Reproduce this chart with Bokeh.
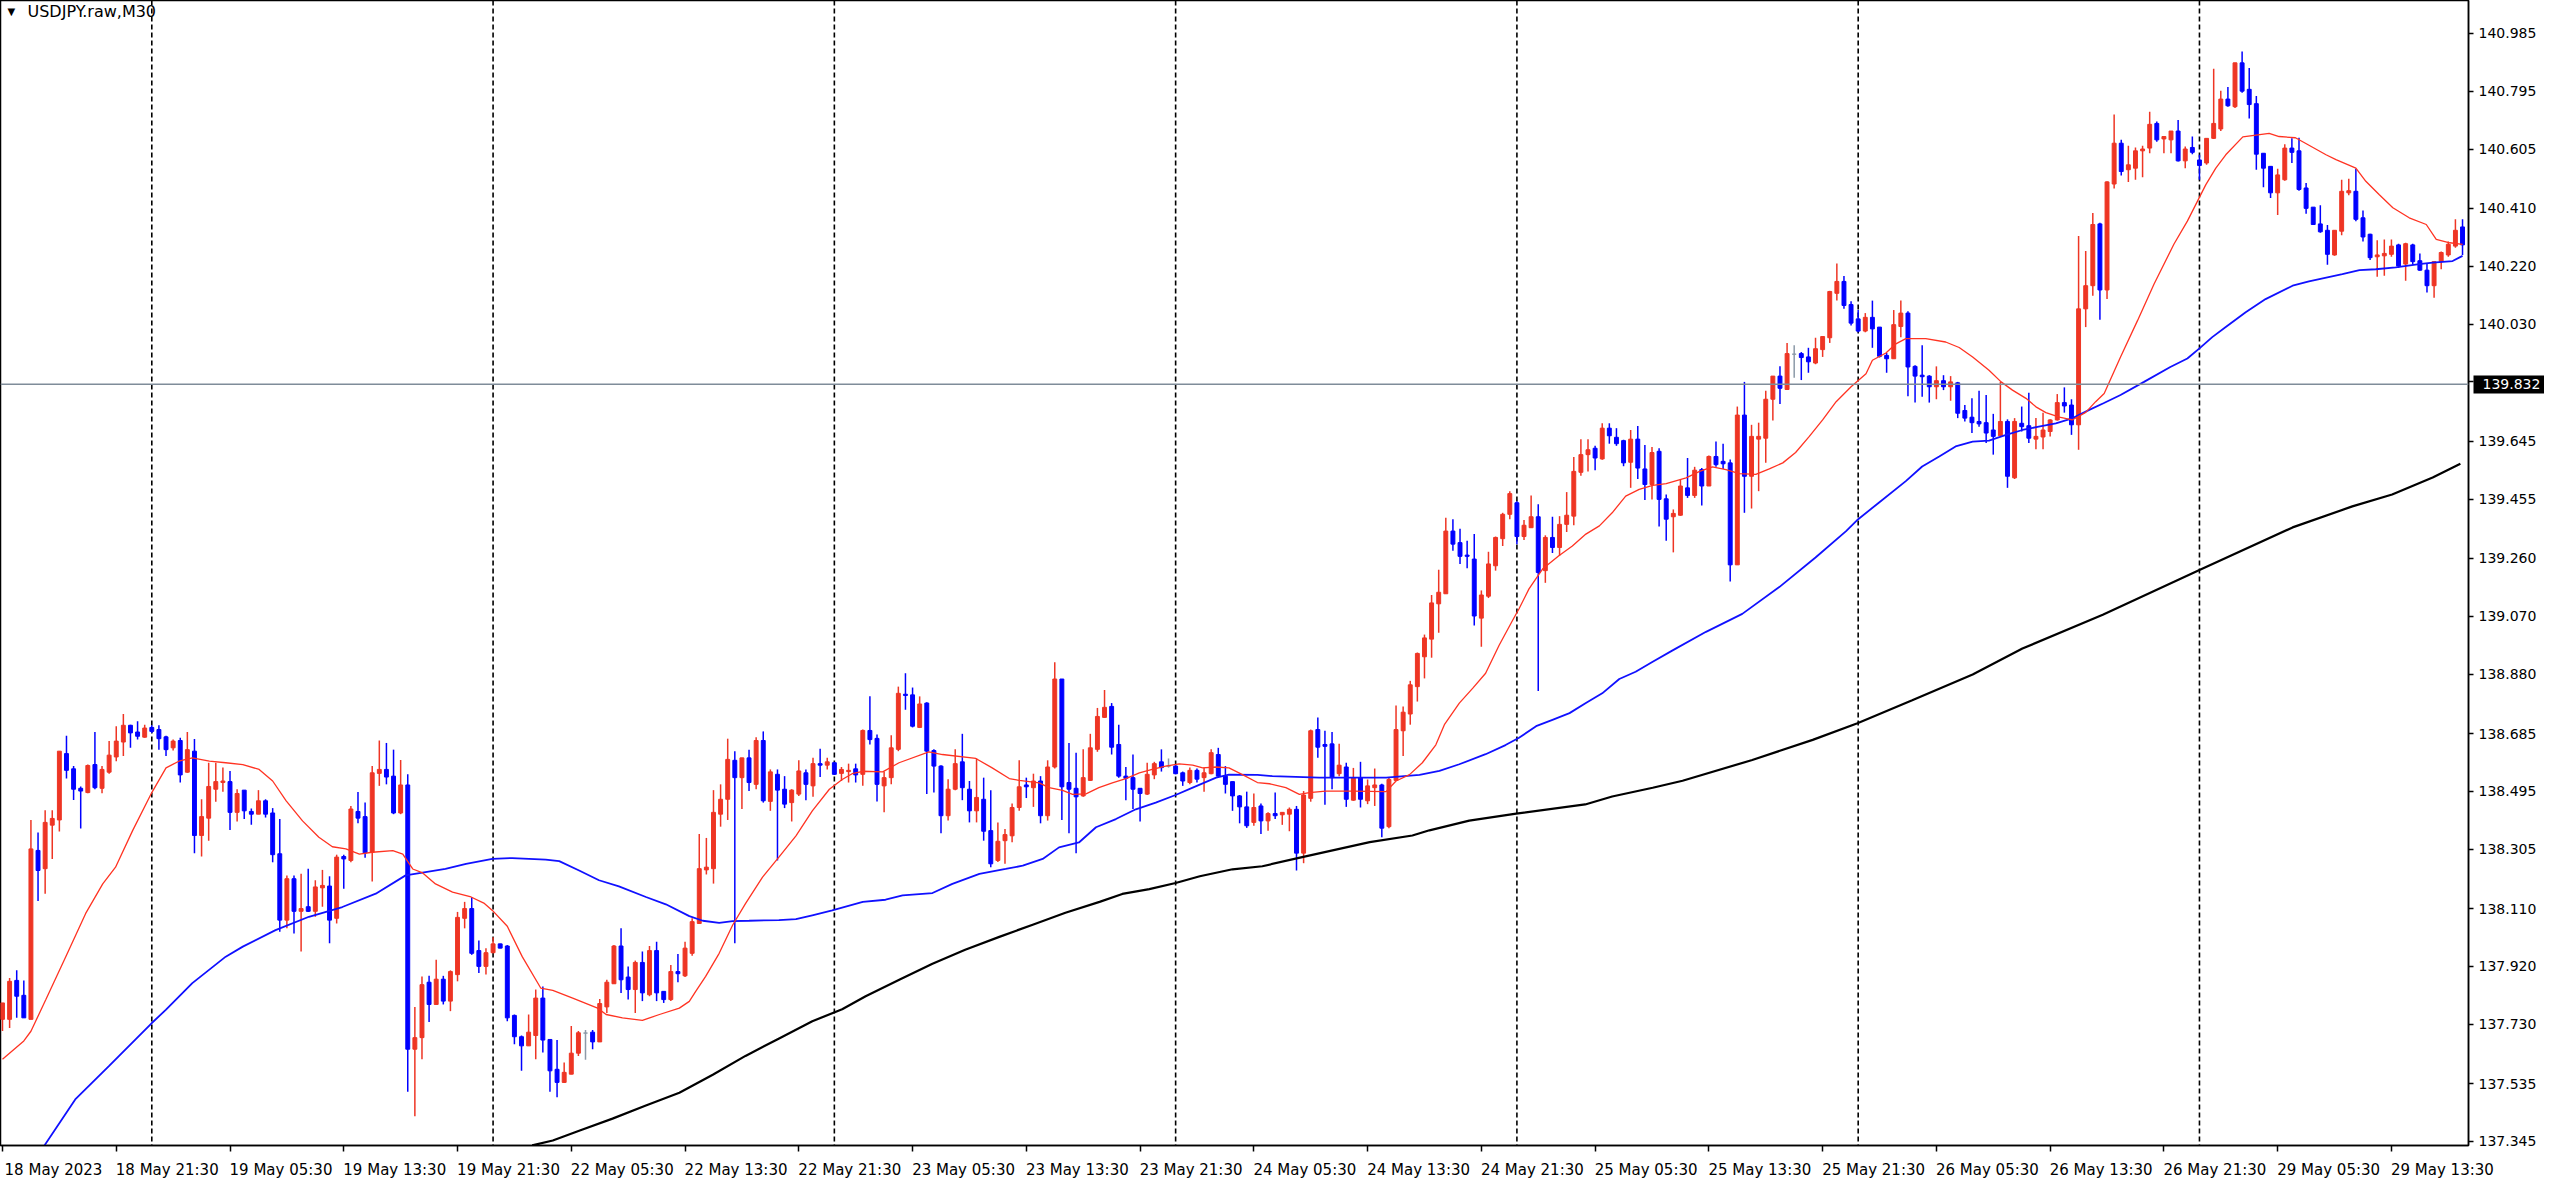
from bokeh.plotting import figure
from bokeh.models import FixedTicker, Label, Span, ColumnDataSource, Range1d, LinearAxis
from bokeh.embed import file_html
from bokeh.resources import INLINE

# ---------------- data (USDJPY.raw, M30) ----------------
opens = [137.746,137.746,137.874,137.825,137.746,138.301,138.241,138.384,138.401,138.619,
138.569,138.505,138.491,138.583,138.505,138.558,138.608,138.657,138.712,138.690,
138.673,138.705,138.698,138.674,138.638,138.662,138.558,138.627,138.350,138.407,
138.502,138.524,138.527,138.426,138.499,138.429,138.420,138.464,138.424,138.290,
138.072,138.208,138.101,138.116,138.101,138.178,138.184,138.078,138.281,138.268,
138.429,138.412,138.295,138.554,138.567,138.545,138.424,138.516,137.648,137.686,
137.868,137.795,137.878,137.806,137.893,138.078,138.110,137.972,137.920,137.965,
137.994,137.987,137.759,137.689,137.659,137.693,137.816,137.680,137.582,137.539,
137.566,137.635,137.701,137.704,137.672,137.787,137.863,137.987,137.885,137.844,
137.933,137.827,137.972,137.838,137.811,137.903,137.889,137.963,138.061,138.237,
138.241,138.420,138.469,138.597,138.540,138.605,138.518,138.662,138.462,138.551,
138.502,138.458,138.486,138.556,138.513,138.586,138.581,138.589,138.554,138.560,
138.569,138.551,138.695,138.669,138.513,138.540,138.633,138.814,138.812,138.705,
138.785,138.629,138.578,138.415,138.502,138.592,138.502,138.431,138.469,138.366,
138.268,138.333,138.349,138.442,138.516,138.507,138.529,138.415,138.575,138.864,
138.524,138.505,138.480,138.531,138.633,138.738,138.774,138.649,138.545,138.540,
138.505,138.486,138.549,138.592,138.578,138.578,138.556,138.524,138.564,138.540,
138.553,138.616,138.545,138.527,138.480,138.444,138.393,138.447,138.398,138.422,
138.418,138.420,138.436,138.292,138.472,138.698,138.649,138.651,138.553,138.575,
138.466,138.540,138.464,138.507,138.516,138.379,138.531,138.694,138.749,138.839,
138.937,138.995,139.111,139.144,139.350,139.312,139.271,139.258,139.064,139.136,
139.236,139.325,139.405,139.443,139.332,139.361,139.397,139.220,139.329,139.296,
139.372,139.399,139.543,139.601,139.622,139.587,139.688,139.658,139.647,139.576,
139.652,139.554,139.503,139.612,139.456,139.397,139.402,139.492,139.467,139.552,
139.498,139.595,139.579,139.574,139.239,139.731,139.530,139.652,139.655,139.783,
139.859,139.815,139.931,139.933,139.922,139.902,139.946,139.985,140.131,140.170,
140.094,140.047,140.007,140.052,140.020,139.927,139.916,140.022,140.066,139.891,
139.862,139.859,139.824,139.844,139.824,139.837,139.746,139.724,139.710,139.706,
139.682,139.663,139.710,139.525,139.704,139.696,139.652,139.659,139.677,139.715,
139.772,139.764,139.699,140.080,140.156,140.359,140.142,140.490,140.624,140.537,
140.542,140.599,140.608,140.689,140.638,140.635,140.664,140.566,140.610,140.569,
140.559,140.640,140.671,140.769,140.744,140.888,140.801,140.754,140.591,140.548,
140.461,140.504,140.608,140.599,140.477,140.414,140.359,140.338,140.257,140.335,
140.461,140.466,140.379,140.325,140.251,140.254,140.259,140.290,140.227,140.290,
140.238,140.207,140.156,140.235,140.257,140.286,140.349]

highs = [137.800,137.882,137.907,137.874,138.401,138.360,138.433,138.433,138.627,138.678,
138.578,138.511,138.583,138.690,138.578,138.660,138.709,138.749,138.714,138.725,
138.714,138.712,138.712,138.678,138.665,138.671,138.690,138.667,138.469,138.589,
138.589,138.573,138.562,138.502,138.499,138.439,138.499,138.469,138.440,138.404,
138.219,138.219,138.224,138.241,138.203,138.237,138.216,138.287,138.287,138.447,
138.493,138.458,138.578,138.662,138.654,138.632,138.598,138.551,137.787,137.887,
137.889,137.942,137.889,137.907,138.099,138.132,138.148,138.005,137.980,138.016,
137.994,137.990,137.762,137.693,137.762,137.844,137.854,137.680,137.678,137.604,
137.724,137.708,137.711,137.711,137.813,137.876,137.990,138.045,137.920,137.939,
137.969,137.987,138.001,137.838,137.925,137.961,138.001,138.078,138.355,138.342,
138.499,138.518,138.668,138.627,138.605,138.632,138.673,138.692,138.567,138.567,
138.545,138.502,138.597,138.567,138.605,138.635,138.605,138.592,138.575,138.586,
138.586,138.698,138.807,138.682,138.560,138.679,138.839,138.883,138.836,138.807,
138.788,138.633,138.581,138.535,138.633,138.684,138.529,138.603,138.540,138.499,
138.393,138.371,138.455,138.597,138.540,138.553,138.545,138.597,138.919,138.864,
138.654,138.622,138.633,138.684,138.769,138.828,138.785,138.714,138.575,138.616,
138.505,138.589,138.592,138.633,138.603,138.581,138.560,138.573,138.570,138.573,
138.633,138.638,138.578,138.527,138.483,138.494,138.488,138.455,138.426,138.491,
138.426,138.442,138.447,138.496,138.698,138.738,138.694,138.690,138.651,138.589,
138.572,138.592,138.534,138.570,138.520,138.542,138.777,138.774,138.858,138.951,
139.010,139.140,139.223,139.394,139.389,139.358,139.318,139.340,139.155,139.282,
139.332,139.410,139.481,139.448,139.386,139.467,139.438,139.336,139.397,139.399,
139.478,139.593,139.652,139.652,139.630,139.704,139.704,139.688,139.650,139.682,
139.695,139.633,139.626,139.622,139.470,139.421,139.519,139.590,139.561,139.557,
139.598,139.644,139.637,139.585,139.759,139.840,139.699,139.706,139.811,139.859,
139.891,139.968,139.960,139.938,139.952,139.985,139.989,140.139,140.229,140.188,
140.105,140.076,140.066,140.107,140.020,139.935,140.076,140.107,140.072,139.895,
139.960,139.862,139.891,139.862,139.859,139.840,139.764,139.786,139.811,139.797,
139.735,139.840,139.717,139.721,139.759,139.804,139.721,139.739,139.717,139.800,
139.822,139.783,140.319,140.270,140.395,140.363,140.499,140.718,140.635,140.616,
140.610,140.616,140.727,140.695,140.646,140.664,140.700,140.613,140.646,140.586,
140.640,140.869,140.796,140.809,140.888,140.925,140.871,140.779,140.591,140.548,
140.540,140.621,140.640,140.642,140.493,140.414,140.420,140.355,140.338,140.504,
140.507,140.540,140.403,140.327,140.305,140.308,140.308,140.294,140.297,140.294,
140.262,140.229,140.235,140.268,140.301,140.374,140.374]

lows = [137.708,137.718,137.751,137.751,137.746,138.135,138.159,138.273,138.363,138.537,
138.467,138.373,138.489,138.502,138.489,138.553,138.594,138.611,138.638,138.665,
138.671,138.687,138.632,138.611,138.629,138.524,138.556,138.292,138.281,138.333,
138.461,138.494,138.368,138.396,138.404,138.385,138.420,138.409,138.262,138.034,
138.045,138.028,137.969,138.099,138.083,138.116,137.996,138.061,138.175,138.262,
138.390,138.277,138.199,138.513,138.518,138.420,138.420,137.508,137.428,137.615,
137.737,137.795,137.795,137.773,137.871,138.045,137.958,137.898,137.893,137.963,
137.980,137.740,137.664,137.577,137.659,137.615,137.637,137.508,137.490,137.537,
137.566,137.626,137.613,137.648,137.672,137.767,137.863,137.833,137.811,137.767,
137.806,137.822,137.806,137.800,137.806,137.868,137.885,137.955,138.061,138.222,
138.192,138.379,138.401,137.996,138.437,138.496,138.502,138.458,138.431,138.268,
138.440,138.396,138.480,138.466,138.477,138.542,138.567,138.549,138.529,138.524,
138.524,138.513,138.649,138.462,138.426,138.518,138.627,138.763,138.705,138.703,
138.486,138.491,138.357,138.399,138.499,138.466,138.393,138.393,138.333,138.246,
138.263,138.257,138.328,138.431,138.473,138.444,138.390,138.399,138.570,138.401,
138.357,138.292,138.477,138.529,138.625,138.736,138.616,138.540,138.466,138.437,
138.396,138.483,138.535,138.560,138.573,138.551,138.513,138.518,138.524,138.494,
138.551,138.540,138.488,138.431,138.390,138.375,138.382,138.355,138.366,138.404,
138.385,138.364,138.235,138.259,138.461,138.605,138.451,138.502,138.545,138.444,
138.464,138.442,138.453,138.447,138.344,138.374,138.531,138.611,138.714,138.790,
138.866,138.934,139.016,139.144,139.285,139.242,139.228,139.040,138.970,139.130,
139.220,139.301,139.389,139.307,139.321,139.361,138.825,139.180,139.278,139.269,
139.347,139.369,139.532,139.546,139.550,139.584,139.637,139.630,139.563,139.492,
139.521,139.452,139.454,139.365,139.318,139.280,139.400,139.459,139.459,139.434,
139.498,139.561,139.554,139.184,139.239,139.410,139.424,139.481,139.574,139.713,
139.767,139.813,139.854,139.846,139.870,139.898,139.922,139.968,140.107,140.080,
140.025,140.003,140.003,139.952,139.920,139.870,139.916,139.987,139.793,139.772,
139.791,139.772,139.783,139.813,139.778,139.721,139.710,139.672,139.693,139.639,
139.601,139.663,139.492,139.521,139.677,139.639,139.619,139.619,139.661,139.713,
139.739,139.666,139.617,140.020,140.123,140.044,140.112,140.475,140.518,140.497,
140.504,140.512,140.591,140.629,140.591,140.591,140.564,140.542,140.588,140.504,
140.553,140.638,140.664,140.744,140.740,140.790,140.705,140.537,140.479,140.444,
140.388,140.501,140.559,140.468,140.392,140.355,140.330,140.225,140.254,140.322,
140.453,140.368,140.301,140.240,140.185,140.189,140.251,140.214,140.172,140.225,
140.205,140.134,140.116,140.210,140.251,140.281,140.257]

closes = [137.800,137.871,137.822,137.751,138.306,138.235,138.393,138.406,138.627,138.564,
138.502,138.496,138.580,138.507,138.567,138.614,138.660,138.712,138.687,138.676,
138.703,138.692,138.668,138.632,138.660,138.549,138.632,138.350,138.412,138.511,
138.527,138.529,138.426,138.488,138.431,138.420,138.464,138.420,138.287,138.072,
138.208,138.101,138.110,138.101,138.181,138.186,138.072,138.279,138.273,138.437,
138.407,138.293,138.556,138.567,138.542,138.424,138.516,137.648,137.686,137.860,
137.795,137.878,137.806,137.903,138.081,138.110,137.963,137.920,137.965,137.994,
137.980,137.751,137.689,137.659,137.704,137.816,137.678,137.577,137.539,137.572,
137.635,137.702,137.701,137.672,137.798,137.868,137.987,137.876,137.844,137.933,
137.833,137.972,137.833,137.811,137.903,137.896,137.980,138.067,138.241,138.246,
138.426,138.469,138.600,138.540,138.605,138.524,138.662,138.464,138.559,138.499,
138.453,138.499,138.562,138.518,138.586,138.581,138.592,138.551,138.567,138.564,
138.549,138.695,138.665,138.518,138.540,138.638,138.817,138.810,138.709,138.782,
138.627,138.578,138.415,138.502,138.586,138.507,138.431,138.475,138.364,138.257,
138.331,138.353,138.442,138.510,138.510,138.529,138.415,138.575,138.864,138.510,
138.502,138.477,138.540,138.638,138.741,138.771,138.640,138.545,138.538,138.502,
138.488,138.551,138.586,138.573,138.578,138.553,138.529,138.564,138.535,138.556,
138.622,138.545,138.518,138.480,138.444,138.382,138.442,138.398,138.422,138.415,
138.426,138.436,138.292,138.483,138.694,138.640,138.643,138.540,138.581,138.469,
138.540,138.469,138.513,138.516,138.374,138.534,138.698,138.755,138.845,138.948,
138.999,139.114,139.149,139.350,139.307,139.267,139.267,139.071,139.140,139.242,
139.329,139.405,139.473,139.332,139.369,139.397,139.214,139.329,139.296,139.372,
139.402,139.546,139.601,139.617,139.590,139.688,139.663,139.637,139.574,139.652,
139.557,139.503,139.608,139.454,139.389,139.408,139.498,139.467,139.550,139.498,
139.595,139.568,139.571,139.239,139.731,139.530,139.661,139.661,139.783,139.859,
139.819,139.933,139.931,139.920,139.906,139.949,139.989,140.137,140.170,140.091,
140.033,140.007,140.052,140.014,139.924,139.916,140.028,140.066,139.889,139.859,
139.857,139.824,139.844,139.824,139.840,139.737,139.721,139.706,139.702,139.672,
139.661,139.710,139.530,139.710,139.693,139.655,139.661,139.682,139.715,139.772,
139.761,139.699,140.080,140.156,140.357,140.142,140.497,140.624,140.531,140.553,
140.599,140.605,140.686,140.635,140.646,140.664,140.566,140.605,140.594,140.551,
140.640,140.689,140.769,140.747,140.888,140.795,140.751,140.588,140.542,140.461,
140.520,140.608,140.594,140.472,140.410,140.357,140.333,140.259,140.338,140.466,
140.468,140.374,140.316,140.248,140.257,140.262,140.286,140.221,140.294,140.235,
140.207,140.156,140.235,140.265,140.292,140.338,140.290]

# moving averages (bar index, price)
ma_red_x = [0,3,4,6.1,8.9,11.7,14.1,15.9,18.3,21,23,24.8,26.7,29.1,31.4,33.8,36.1,38,39.9,42.2,
44.5,46.4,48.3,50.2,52,54.9,56.3,57.7,59.1,60.9,63.3,65.9,67.7,68.9,71,73.1,75.7,77.4,80.2,83.7,
84.9,87.2,90,92.4,95.2,96.6,97.5,98.9,100.8,102.7,104.5,106.9,109.2,111.6,113.9,116.3,118.1,119.5,
121,123.8,126.1,130.3,132.2,136.9,139.2,141.6,143,145.8,147.2,149.1,150.5,152.4,154.2,156.1,158,
159.9,161.7,163.6,165.5,167.4,168.8,170.7,172.5,174.4,176.5,178.2,180.5,182.4,183.8,186.1,189.9,
194.6,196,197.9,199.7,201.6,202.8,204.9,206.8,208.6,210.5,212.4,213.3,214.7,216.6,218.9,220.8,
222.7,224.6,226.4,228.3,230.2,232.1,234.0,236.8,238.7,240.5,242.4,244.3,246.6,248.5,250.4,252.2,
254.1,256,257.9,260,262.1,263,264.9,266.3,267.7,270.5,273.3,275.2,277.1,279.4,281.1,282.7,284.6,
286,287.4,289.3,291.1,293,294.4,295.6,297.9,300.3,302.6,305.4,307.3,309.9,311.3,312.7,315.1,318.8,
320.2,322.5,323.9,326.8,328.2,331,332.4,334.3,336.2,338.5,340.9,342.3,344.2,346]
ma_red_y = [137.615,137.675,137.707,137.811,137.952,138.094,138.191,138.246,138.366,138.491,
138.572,138.594,138.605,138.594,138.589,138.583,138.567,138.529,138.464,138.398,138.344,138.313,
138.306,138.289,138.295,138.300,138.289,138.240,138.227,138.191,138.164,138.148,138.128,138.104,
138.052,137.952,137.849,137.841,137.816,137.783,137.762,137.751,137.743,137.762,137.783,137.805,
137.838,137.887,137.963,138.056,138.126,138.213,138.279,138.349,138.431,138.502,138.534,138.553,
138.561,138.559,138.589,138.625,138.616,138.603,138.572,138.537,138.531,138.523,138.507,138.498,
138.485,138.487,138.507,138.523,138.537,138.556,138.567,138.578,138.585,138.581,138.572,138.575,
138.572,138.550,138.524,138.520,138.507,138.485,138.491,138.496,138.496,138.494,138.529,138.550,
138.589,138.648,138.714,138.785,138.834,138.883,138.975,139.057,139.095,139.160,139.225,139.269,
139.301,139.340,139.367,139.410,139.465,139.487,139.500,139.506,139.525,139.546,139.561,139.552,
139.539,139.536,139.554,139.574,139.608,139.660,139.715,139.775,139.824,139.867,139.911,139.935,
139.965,139.982,139.982,139.971,139.953,139.922,139.878,139.840,139.813,139.786,139.758,139.739,
139.724,139.715,139.740,139.775,139.802,139.922,140.042,140.161,140.292,140.368,140.488,140.542,
140.586,140.645,140.656,140.646,140.642,140.624,140.586,140.570,140.542,140.499,140.455,140.412,
140.379,140.357,140.308,140.297,140.292]

ma_blue_x = [5.9,10.3,15,21,23,26.7,31.4,33.8,38.4,43.1,47.8,52.5,56.7,59.5,62.3,65.2,68.9,71.7,
76.4,78.3,81.1,83.9,86.7,90.5,93.3,96.6,98.5,100.8,102.7,105,109.2,111.6,113.9,116.7,121,124.2,
126.6,130.8,133.6,137.4,141.1,143.5,146.3,148.6,151.4,153.8,156.6,159.4,162.2,165,167.4,170.7,
172.5,176.5,178.6,185.2,194.6,199.3,202.1,204.9,208.6,211.4,213.3,215.7,218,220.4,222.7,225,
227.4,229.7,232.1,234.9,239.6,244.7,249.9,255,259.3,261,263.9,267.7,270,272.4,274.7,277.1,279.4,
281.8,284.1,286.4,288.8,291.1,293.5,295.5,297.9,301.2,304.9,307.3,309,310.8,312.7,315.5,318.3,
322.1,324.4,329.1,331.5,333.8,336.6,339.9,341.8,344.6,346]
ma_blue_y = [137.332,137.485,137.593,137.734,137.778,137.865,137.952,137.985,138.039,138.083,
138.115,138.159,138.219,138.230,138.240,138.257,138.273,138.276,138.271,138.266,138.235,138.203,
138.183,138.148,138.124,138.085,138.070,138.063,138.069,138.070,138.072,138.075,138.088,138.104,
138.132,138.139,138.153,138.161,138.191,138.224,138.240,138.251,138.273,138.311,138.327,138.377,
138.404,138.436,138.458,138.483,138.507,138.540,138.550,138.549,138.545,138.540,138.540,138.549,
138.562,138.584,138.617,138.647,138.671,138.709,138.730,138.752,138.785,138.817,138.864,138.888,
138.921,138.958,139.019,139.078,139.166,139.263,139.350,139.389,139.443,139.514,139.562,139.595,
139.628,139.644,139.647,139.666,139.682,139.693,139.704,139.720,139.748,139.770,139.797,139.840,
139.889,139.917,139.950,139.987,140.020,140.069,140.112,140.156,140.170,140.194,140.207,140.210,
140.216,140.227,140.232,140.237,140.254]

ma_black_x = [74.5,77.4,81.2,85.8,90.4,95.2,99.9,104.5,109.3,113.9,118.1,121.4,126.2,130.8,135.4,
140.2,144.9,149.5,154.3,157.5,161.3,165,168.4,173,177.2,182.8,192.3,198.3,200.7,206.3,212.9,222.6,
226.4,232.1,236.3,246.1,254.6,260.9,268.6,277.1,284.1,295.4,309,322.1,330.5,336.1,341.8,345.7]
ma_black_y = [137.332,137.348,137.381,137.420,137.462,137.505,137.564,137.626,137.684,137.740,
137.779,137.822,137.877,137.929,137.975,138.017,138.057,138.096,138.132,138.158,138.174,138.194,
138.216,138.239,138.249,138.279,138.328,138.350,138.367,138.399,138.422,138.452,138.478,138.507,
138.530,138.598,138.664,138.719,138.794,138.879,138.964,139.075,139.222,139.362,139.431,139.470,
139.526,139.571]

x_tick_bars = [0,16,32,48,64,80,96,112,128,144,160,176,192,208,224,240,256,272,288,304,320,336]
x_tick_labels = ["18 May 2023","18 May 21:30","19 May 05:30","19 May 13:30","19 May 21:30",
                 "22 May 05:30","22 May 13:30","22 May 21:30","23 May 05:30","23 May 13:30",
                 "23 May 21:30","24 May 05:30","24 May 13:30","24 May 21:30","25 May 05:30",
                 "25 May 13:30","25 May 21:30","26 May 05:30","26 May 13:30","26 May 21:30",
                 "29 May 05:30","29 May 13:30"]
y_tick_labels = ["137.345","137.535","137.730","137.920","138.110","138.305","138.495","138.685",
                 "138.880","139.070","139.260","139.455","139.645","139.840","140.030","140.220",
                 "140.410","140.605","140.795","140.985"]
day_separator_bars = [21, 69, 117, 165, 213, 261, 309]
bid_price = 139.832
title_text = "USDJPY.raw,M30"

# ---------------- figure ----------------
FONT = "DejaVu Sans"
W, H = 2544, 1181
X0, X1 = -0.28, 346.84
Y0, Y1 = 137.3317, 141.0928
BAR_PX = 2468 / (X1 - X0)

p = figure(width=W, height=H, output_backend="svg", toolbar_location=None,
           x_range=Range1d(X0, X1), y_range=Range1d(Y0, Y1),
           y_axis_location="right", min_border_left=0, min_border_top=0,
           min_border_right=76, min_border_bottom=29,
           background_fill_color="white", border_fill_color="white")
p.grid.visible = False
p.outline_line_color = "black"
p.outline_line_width = 1.5

# period separators (behind candles)
for b in day_separator_bars:
    p.add_layout(Span(location=b, dimension="height", line_color="black",
                      line_width=1.6, line_dash="5 3", level="underlay"))

RED, BLUE, GRAY = "#EE3524", "#0000FF", "#8C9AA8"
n = len(opens)
colors = [RED if c > o else (BLUE if c < o else GRAY) for o, c in zip(opens, closes)]
src = ColumnDataSource(dict(
    x=list(range(n)), o=opens, h=highs, l=lows, c=closes,
    top=[max(o, c) for o, c in zip(opens, closes)],
    bottom=[min(o, c) for o, c in zip(opens, closes)],
    color=colors))
p.segment(x0="x", y0="h", x1="x", y1="l", line_color="color", line_width=1.5, source=src)
p.vbar(x="x", width=0.55, top="top", bottom="bottom", fill_color="color",
       line_color="color", line_width=1, source=src)

p.line(ma_black_x, ma_black_y, line_color="black", line_width=2.2)
p.line(ma_blue_x, ma_blue_y, line_color="#1010FF", line_width=1.8)
p.line(ma_red_x, ma_red_y, line_color="#FF3322", line_width=1.3)

# bid line
p.add_layout(Span(location=bid_price, dimension="width", line_color="#7F8C99", line_width=1.5))

# ---- time axis: tick marks at the bars (minor ticks), labels start at each tick ----
LABEL_SHIFT = 51 / BAR_PX   # half a label width
lab_pos = [b + LABEL_SHIFT for b in x_tick_bars]
xa = p.xaxis[0]
xa.ticker = FixedTicker(ticks=lab_pos, minor_ticks=x_tick_bars)
xa.major_label_overrides = {v: t for v, t in zip(lab_pos, x_tick_labels)}
xa.major_tick_out = 0
xa.major_tick_in = 0
xa.minor_tick_out = 6
xa.minor_tick_in = 0
xa.minor_tick_line_color = "black"
xa.minor_tick_line_width = 1.5
xa.major_label_standoff = 9
xa.axis_line_color = "black"
xa.axis_line_width = 1.5
xa.major_label_text_font = FONT
xa.major_label_text_font_size = "15px"
xa.major_label_text_color = "black"

# ---- right price scale ----
y_tick_pos = [round(float(t), 3) for t in y_tick_labels]
ya = p.yaxis[0]
ya.ticker = FixedTicker(ticks=y_tick_pos)
ya.major_label_overrides = {v: t for v, t in zip(y_tick_pos, y_tick_labels)}
ya.major_label_standoff = 5
ya.major_tick_out = 5
ya.major_tick_in = 0
ya.minor_tick_out = 0
ya.minor_tick_in = 0
ya.axis_line_color = "black"
ya.axis_line_width = 1.5
ya.major_tick_line_color = "black"
ya.major_tick_line_width = 1.5
ya.major_label_text_font = FONT
ya.major_label_text_font_size = "14px"
ya.major_label_text_color = "black"

# bid price marker on the scale: a thick black tick with white label, drawn back over the scale
bid_axis = LinearAxis(ticker=FixedTicker(ticks=[bid_price]),
                      major_label_overrides={bid_price: f"{bid_price:.3f}"},
                      axis_line_color=None, major_tick_in=66, major_tick_out=6,
                      major_tick_line_color="black", major_tick_line_width=18,
                      minor_tick_out=0, minor_tick_in=0, major_label_standoff=-63,
                      major_label_text_font=FONT, major_label_text_font_size="14px",
                      major_label_text_color="white")
p.add_layout(bid_axis, "right")

# title
title_y = Y1 - 11 / (1152 / (Y1 - Y0))
p.add_layout(Label(x=7, y=title_y, x_units="screen", y_units="data", text="\u25BC",
                   text_color="black", text_font=FONT, text_font_size="10px",
                   text_align="left", text_baseline="middle"))
p.add_layout(Label(x=27, y=title_y, x_units="screen", y_units="data", text=title_text,
                   text_color="black", text_font=FONT, text_font_size="16px",
                   text_align="left", text_baseline="middle"))

open("out.html", "w").write(file_html(p, INLINE))
